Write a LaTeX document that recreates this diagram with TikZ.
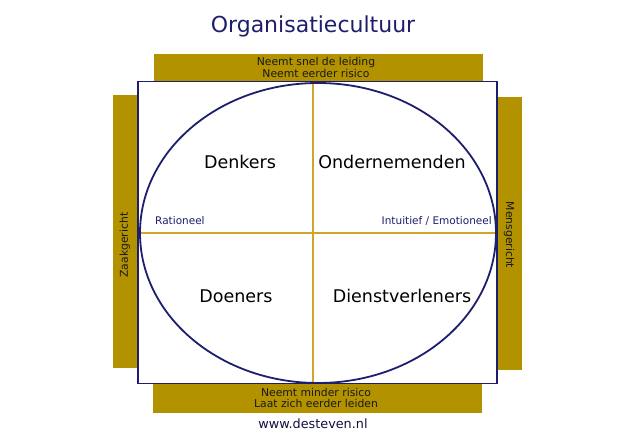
\documentclass[tikz,border=0pt]{standalone}
\usepackage{fontspec}
\setmainfont{DejaVu Sans}
\definecolor{gold}{RGB}{179,146,0}
\definecolor{goldline}{RGB}{205,168,40}
\definecolor{navy}{RGB}{30,30,110}
\definecolor{bandtext}{RGB}{25,25,25}
\begin{document}
\begin{tikzpicture}[x=1pt,y=-1pt,
  band/.style={fill=gold,draw=none},
  bandlbl/.style={font=\fontsize{10.8}{11.5}\selectfont,text=bandtext,align=center,inner sep=0pt},
  quad/.style={font=\fontsize{17.5}{20}\selectfont,text=black,inner sep=0pt},
  axis/.style={font=\fontsize{10.5}{12}\selectfont,text=navy,inner sep=0pt}]
\useasboundingbox (0,0) rectangle (640,446);
\fill[white] (0,0) rectangle (640,446);
% bands
\fill[band] (154,54) rectangle (483,83);
\fill[band] (153,383) rectangle (482,413);
\fill[band] (113,95) rectangle (138,368);
\fill[band] (497,97) rectangle (522,370);
% main box
\node[draw=navy,line width=1.6pt,fill=white,minimum width=359pt,minimum height=302pt,inner sep=0pt] (box) at (317.5,232.5) {};
% axes
\draw[goldline,line width=1.1pt] (313,83) -- (313,383);
\draw[goldline,line width=1.1pt] (139,233) -- (496,233);
% ellipse
\draw[navy,line width=1.8pt] (318,233) ellipse [x radius=178, y radius=150];
% texts
\node[font=\fontsize{22}{25}\selectfont,text=navy] (title) at (313,26) {Organisatiecultuur};
\node[bandlbl] (top) at (316,67.5) {Neemt snel de leiding\\Neemt eerder risico};
\node[bandlbl] (bot) at (316,398) {Neemt minder risico\\Laat zich eerder leiden};
\node[bandlbl,rotate=90] (left) at (125,245) {Zaakgericht};
\node[bandlbl,rotate=-90] (right) at (509,235) {Mensgericht};
\node[quad] (q1) at (240,162) {Denkers};
\node[quad] (q2) at (392,162) {Ondernemenden};
\node[quad] (q3) at (236,296) {Doeners};
\node[quad] (q4) at (402,296) {Dienstverleners};
\node[axis,anchor=west] (rat) at (155,221) {Rationeel};
\node[axis,anchor=east] (emo) at (492,221) {Intuitief / Emotioneel};
\node[font=\fontsize{12.8}{15}\selectfont,text=navy!60!black] (url) at (313,424) {www.desteven.nl};
\end{tikzpicture}
\end{document}
